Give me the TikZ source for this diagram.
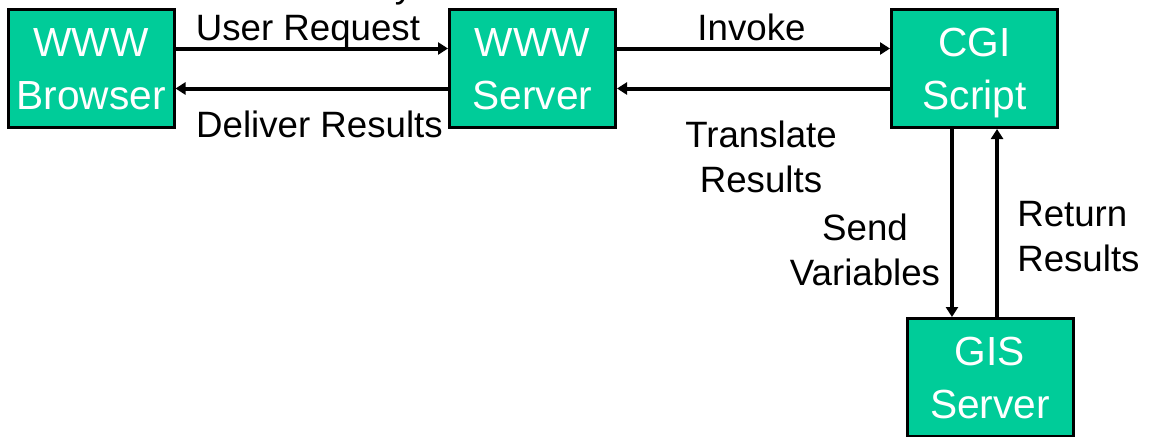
\documentclass[tikz,border=0pt]{standalone}
\usepackage{fontspec}
\setmainfont{Liberation Sans}
\usetikzlibrary{arrows.meta}
\definecolor{boxgreen}{RGB}{0,204,153}
\tikzset{
  box/.style={draw=black, line width=2.25pt, fill=boxgreen, text=white,
    minimum width=124.5pt, minimum height=88.5pt, inner sep=0pt,
    align=center, font=\fontsize{30.5}{39.75}\selectfont,
    text height=61.5pt, text depth=0pt},
  arr/.style={line width=3pt, -{Triangle[length=7.5pt,width=9pt]}},
  lbl/.style={inner sep=0pt, font=\fontsize{27.5}{33.75}\selectfont}
}
\begin{document}
\begin{tikzpicture}[x=0.75pt, y=-0.75pt]
\useasboundingbox (0,0) rectangle (1151,436);
% boxes
\node[box] (br)  at (91,68.5)   {WWW\\Browser};
\node[box] (srv) at (532.5,68.5) {WWW\\Server};
\node[box] (cgi) at (974.5,68.5) {CGI\\Script};
\node[box] (gis) at (990,377.5)  {GIS\\Server};
% connectors
\draw[arr] ([yshift=15pt]br.east) -- ([yshift=15pt]srv.west);
\draw[arr] ([yshift=-15pt]srv.west) -- ([yshift=-15pt]br.east);
\draw[arr] ([yshift=15pt]srv.east) -- ([yshift=15pt]cgi.west);
\draw[arr] ([yshift=-15pt]cgi.west) -- ([yshift=-15pt]srv.east);
\draw[arr] ([xshift=-16.9pt]cgi.south) -- ([xshift=-16.9pt]cgi.south |- gis.north);
\draw[arr] ([xshift=16.9pt]cgi.south |- gis.north) -- ([xshift=16.9pt]cgi.south);
% labels
\node[lbl, anchor=base] (frag) at (404,-3) {y};
\node[lbl, anchor=base] (lur) at (308,40) {User Request};
\node[lbl, anchor=base] (ldr) at (319.5,137) {Deliver Results};
\node[lbl, anchor=base] (linv) at (751.5,40) {Invoke};
\node[lbl, anchor=north, align=center] (ltr) at (761,121) {Translate\\Results};
\node[lbl, anchor=north, align=center] (lsv) at (865,214) {Send\\Variables};
\node[lbl, anchor=north west, align=left] (lrr) at (1017,201) {Return\\Results};
\end{tikzpicture}
\end{document}
